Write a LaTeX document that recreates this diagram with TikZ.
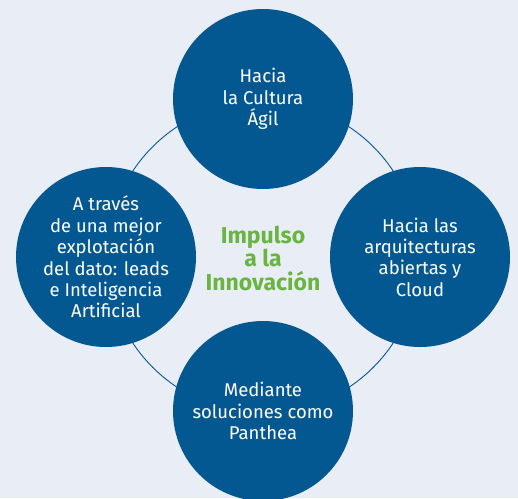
\documentclass[tikz,border=0pt]{standalone}
\usepackage{fontspec}
\setmainfont{Fira Sans}
\usepackage{xcolor}
\definecolor{bgblue}{HTML}{E9EEF6}
\definecolor{darkblue}{HTML}{045892}
\definecolor{leafgreen}{HTML}{6AB541}
\tikzset{every node/.style={font=\fontsize{18.5}{21.4}\selectfont},
         topic/.style={circle,fill=darkblue,minimum size=180pt,inner sep=0pt,text=white,align=center},
         ring/.style={draw=darkblue,line width=0.9pt},
         hub/.style={text=leafgreen,align=center,font=\fontsize{23}{23.5}\selectfont\bfseries},
         }
\begin{document}
\begin{tikzpicture}[x=1pt,y=-1pt]
		\fill[bgblue] (0,0) rectangle (518,498);
		\useasboundingbox (0,0) rectangle (518,498);
		\coordinate (c) at (263,257);
		\draw[ring] (c) circle (156);
		\node[hub] (impulso) at (263,258) {Impulso\\a la\\Innovación};
		\node[topic] (agil) at (263,99) {Hacia\\la Cultura\\Ágil};
		\node[topic] (cloud) at (420,257) {Hacia las\\arquitecturas\\abiertas y\\Cloud};
		\node[topic] (panthea) at (263,411) {Mediante\\soluciones como\\Panthea};
		\node[topic] (dato) at (106,257) {A través\\de una mejor\\explotación\\del dato: leads\\e Inteligencia\\Artificial};
\end{tikzpicture}
\end{document}
